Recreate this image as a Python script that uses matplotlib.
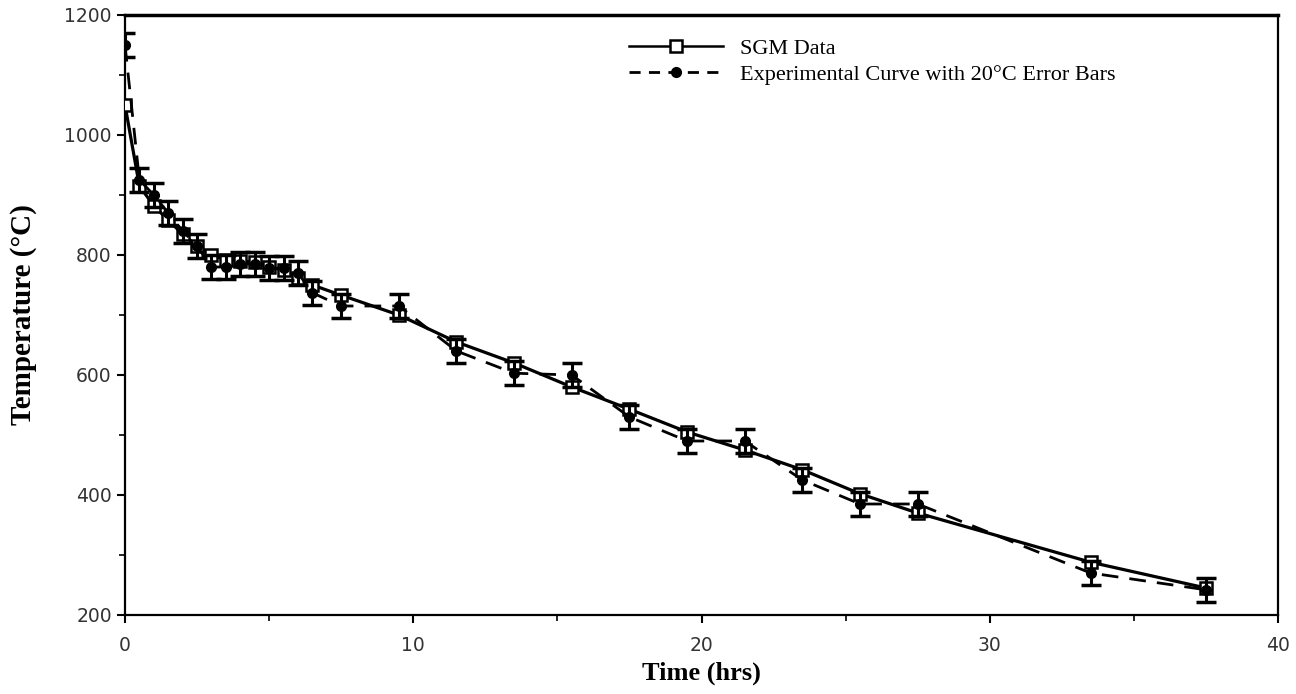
import matplotlib
matplotlib.use("Agg")
import matplotlib.pyplot as plt
from matplotlib.ticker import MultipleLocator
from matplotlib.lines import Line2D

# Time (hrs)
time_hrs = [0, 0.5, 1, 1.5, 2, 2.5, 3, 3.5, 4, 4.5, 5, 5.5, 6, 6.5, 7.5, 9.5,
            11.5, 13.5, 15.5, 17.5, 19.5, 21.5, 23.5, 25.5, 27.5, 33.5, 37.5]
# SGM Data (°C)
sgm_temp = [1050, 915, 882, 858, 835, 815, 800, 792, 790, 788, 780, 775, 762, 750, 733, 700,
            655, 620, 580, 543, 505, 475, 442, 402, 370, 288, 245]
# Experimental (°C)
exp_temp = [1150, 925, 900, 870, 840, 815, 780, 780, 785, 785, 778, 778, 770, 737, 715, 715,
            640, 603, 600, 530, 490, 490, 425, 385, 385, 270, 242]
exp_err = 20

x_ticks = [0, 10, 20, 30, 40]
y_ticks = [200, 400, 600, 800, 1000, 1200]

fig = plt.figure(figsize=(12.96, 6.94), dpi=100)
ax = fig.add_axes([125/1296, 1 - 615/694, (1278-125)/1296, 600/694])

serif = ["Liberation Serif", "DejaVu Serif"]

ax.plot(time_hrs, sgm_temp, '-', color='black', lw=2.3, marker='s', markersize=8,
        markerfacecolor='white', markeredgecolor='black', markeredgewidth=1.8,
        zorder=3)
ax.errorbar(time_hrs, exp_temp, yerr=exp_err, fmt='o', color='black', ls='--', lw=2.0,
            dashes=(6, 4), markersize=7, capsize=7, capthick=2.5, elinewidth=2.2,
            zorder=4)

ax.set_xlim(0, 40)
ax.set_ylim(200, 1200)
ax.set_xticks(x_ticks)
ax.set_yticks(y_ticks)
ax.xaxis.set_minor_locator(MultipleLocator(5))
ax.yaxis.set_minor_locator(MultipleLocator(100))
ax.tick_params(axis='both', which='major', direction='out', length=6, width=1.5,
               labelsize=13.5, labelcolor='#333333')
ax.tick_params(axis='x', which='major', pad=9)
ax.tick_params(axis='both', which='minor', direction='out', length=4, width=1.2)
for s in ax.spines.values():
    s.set_linewidth(1.6)
ax.spines['top'].set_linewidth(2.5)

ax.set_xlabel('Time (hrs)', family=serif, fontweight='bold', fontsize=19, labelpad=5)
ax.set_ylabel('Temperature (°C)', family=serif, fontweight='bold', fontsize=21, labelpad=20)

h1 = Line2D([], [], color='black', lw=1.8, marker='s', markersize=8,
            markerfacecolor='white', markeredgecolor='black', markeredgewidth=1.8)
h2 = Line2D([], [], color='black', lw=2.0, ls='--', dashes=(4, 3), marker='o', markersize=7)
ax.legend([h1, h2], ['SGM Data', 'Experimental Curve with 20°C Error Bars'],
          loc='upper left', bbox_to_anchor=(0.42, 0.995),
          frameon=False, prop={'family': serif, 'size': 16}, handlelength=4.2,
          handletextpad=0.8, labelspacing=0.25)

fig.savefig('out.png', dpi=100)
